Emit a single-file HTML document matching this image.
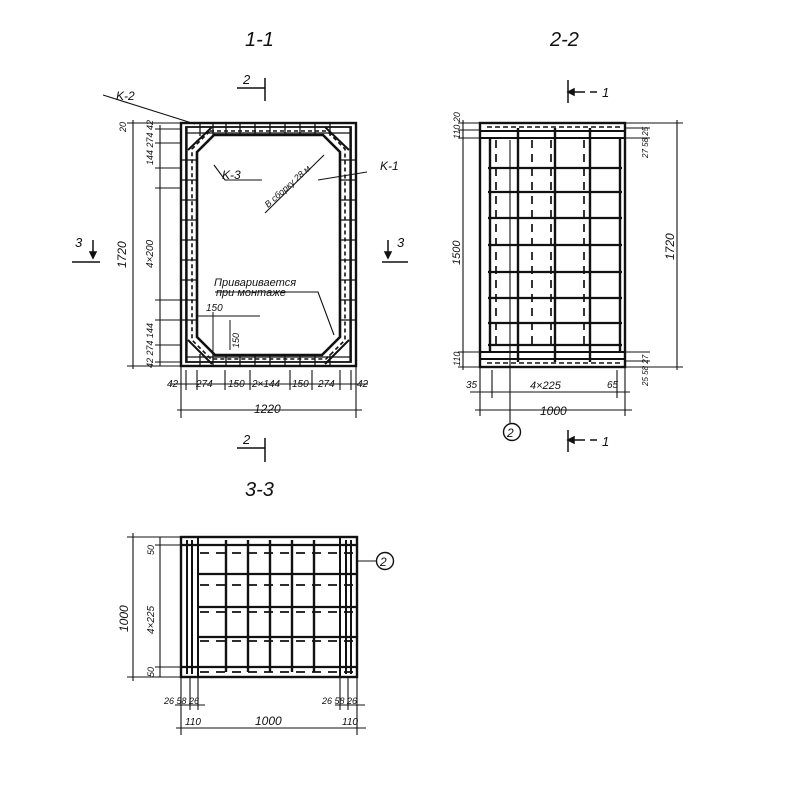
<!DOCTYPE html>
<html><head><meta charset="utf-8"><style>
html,body{margin:0;padding:0;background:#fff}
svg{display:block}
text{font-family:"Liberation Sans",sans-serif;font-style:italic;fill:#111;font-weight:500}
</style></head><body>
<svg width="800" height="800" viewBox="0 0 800 800" xmlns="http://www.w3.org/2000/svg">
<g stroke="#111" fill="none" stroke-width="1.5">
<!-- ===== 1-1 ===== -->
<rect x="181" y="123" width="175" height="243" stroke-width="2.4"/>
<rect x="186" y="127" width="165" height="235" stroke-width="1.8"/>
<path d="M214 135 L323 135 L340 152 L340 337 L322 355 L215 355 L197 337 L197 152 Z" stroke-width="2.6"/>
<path d="M210 131 L327 131 L345 149 L345 340 L326 359 L211 359 L192 340 L192 149 Z" stroke-dasharray="4 3" stroke-width="1.6"/>
<path d="M188 150 L212 127 M349 150 L325 127 M188 340 L212 364 M349 340 L325 364" stroke-width="2"/>
<path d="M186 133 H351 M186 357 H351 M187 127 V362 M350 127 V362" stroke-width="1.3"/>
<g stroke-width="1.3">
<path d="M200 123 V136 M213 123 V136 M226 123 V136 M240 123 V136 M255 123 V136 M270 123 V136 M285 123 V136 M300 123 V136 M315 123 V136 M330 123 V136"/>
<path d="M200 354 V366 M213 354 V366 M226 354 V366 M240 354 V366 M255 354 V366 M270 354 V366 M285 354 V366 M300 354 V366 M315 354 V366 M330 354 V366"/>
<path d="M181 160 H197 M181 180 H197 M181 200 H197 M181 220 H197 M181 240 H197 M181 260 H197 M181 280 H197 M181 300 H197 M181 320 H197"/>
<path d="M340 160 H356 M340 180 H356 M340 200 H356 M340 220 H356 M340 240 H356 M340 260 H356 M340 280 H356 M340 300 H356 M340 320 H356"/>
</g>
<path d="M133 120 V369 M127 123 H181 M127 366 H181 M160 125 V366 M155 129 H181 M155 143 H181 M155 168 H181 M155 188 H181 M155 300 H197 M155 320 H197 M155 345 H181 M155 362 H181" stroke-width="1.1"/>
<path d="M181 366 V418 M356 366 V418 M186 370 V390 M197 370 V390 M225 370 V390 M250 370 V390 M290 370 V390 M312 370 V390 M340 370 V390 M351 370 V390 M170 384 H368 M177 410 H362" stroke-width="1.1"/>
<path d="M197 316 H260 M213 312 V355 M230 320 V350" stroke-width="1"/>
<path d="M103 95 L195 124 M318 180 L367 172 M214 165 L225 180 L262 180 M265 213 L324 155 M215 292 L318 292 L334 335" stroke-width="1.1"/>
<path d="M237 88 H265 M265 78 V101 M237 448 H265 M265 438 V462 M72 262 H100 M93 240 V258 M382 262 H408 M388 240 V258" stroke-width="1.5"/>
<path d="M93 258 l-3 -6 h6 z M388 258 l-3 -6 h6 z" fill="#111"/>
<!-- ===== 2-2 ===== -->
<rect x="480" y="123" width="145" height="244" stroke-width="2.4"/>
<path d="M480 131 H625 M480 138 H625 M480 352 H625 M480 359 H625" stroke-width="2"/>
<path d="M487 127 H620 M487 363 H620" stroke-dasharray="5 3" stroke-width="1.6"/>
<path d="M490 138 V352 M518 128 V362 M555 128 V362 M590 128 V362 M620 138 V352" stroke-width="2.4"/>
<path d="M496 140 V350 M532 140 V350 M551 140 V350 M584 140 V350" stroke-dasharray="8 6" stroke-width="1.7"/>
<path d="M488 168 H622 M488 192 H622 M488 218 H622 M488 245 H622 M488 272 H622 M488 298 H622 M488 323 H622 M488 345 H622" stroke-width="2.2"/>
<path d="M463 120 V370 M458 123 H480 M458 130 H480 M458 138 H480 M458 352 H480 M458 367 H480" stroke-width="1.1"/>
<path d="M677 120 V370 M625 123 H683 M625 367 H683 M625 128 H650 M625 138 H650 M625 352 H650 M625 361 H650" stroke-width="1.1"/>
<path d="M480 367 V416 M625 367 V416 M492 370 V398 M617 370 V398 M470 392 H630 M475 410 H632 M510 140 V423" stroke-width="1.1"/>
<circle cx="512" cy="432" r="8.5" stroke-width="1.4"/>
<path d="M568 80 V103 M568 92 H585 M590 92 H597 M568 430 V452 M568 440 H585 M590 440 H597" stroke-width="1.5"/>
<path d="M568 92 l6 -3 v6 z M568 440 l6 -3 v6 z" fill="#111"/>
<!-- ===== 3-3 ===== -->
<rect x="181" y="537" width="176" height="140" stroke-width="2.4"/>
<path d="M198 537 V677 M340 537 V677 M187 540 V674 M192 540 V674 M346 540 V674 M351 540 V674" stroke-width="2"/>
<path d="M181 545 H357 M198 574 H357 M198 607 H357 M198 637 H357 M181 667 H357" stroke-width="2.2"/>
<path d="M200 553 H357 M200 585 H357 M200 612 H357 M200 641 H357 M200 672 H357" stroke-dasharray="9 7" stroke-width="1.7"/>
<path d="M226 540 V672 M248 540 V672 M270 540 V672 M292 540 V672 M314 540 V672" stroke-width="2.4"/>
<path d="M357 561 H376" stroke-width="1.1"/>
<circle cx="385" cy="561" r="8.5" stroke-width="1.4"/>
<path d="M133 533 V681 M127 537 H181 M127 677 H181 M160 537 V677 M155 545 H181 M155 667 H181" stroke-width="1.1"/>
<path d="M181 677 V735 M198 677 V710 M190 677 V710 M357 677 V735 M340 677 V710 M348 677 V710 M175 705 H205 M335 705 H365 M176 728 H366" stroke-width="1.1"/>
</g>
<g font-size="13">
<text x="245" y="46" font-size="20">1-1</text>
<text x="550" y="46" font-size="20">2-2</text>
<text x="245" y="496" font-size="20">3-3</text>
<text x="243" y="84">2</text>
<text x="243" y="444">2</text>
<text x="75" y="247">3</text>
<text x="397" y="247">3</text>
<text x="602" y="97">1</text>
<text x="602" y="446">1</text>
<text x="116" y="100" font-size="12">K-2</text>
<text x="222" y="179" font-size="12">K-3</text>
<text x="380" y="170" font-size="12">K-1</text>
<text x="214" y="286" font-size="11">Приваривается</text>
<text x="216" y="296" font-size="11">при монтаже</text>
<text x="0" y="0" font-size="9" transform="translate(268,208) rotate(-42)">В сборку 28 м</text>
<text x="0" y="0" font-size="12" transform="translate(126,268) rotate(-90)">1720</text>
<text x="0" y="0" font-size="10" transform="translate(153,268) rotate(-90)">4×200</text>
<text x="0" y="0" font-size="9" transform="translate(153,165) rotate(-90)">144 274 42</text>
<text x="0" y="0" font-size="9" transform="translate(153,368) rotate(-90)">42 274 144</text>
<text x="0" y="0" font-size="9" transform="translate(126,132) rotate(-90)">20</text>
<text x="206" y="311" font-size="10">150</text>
<text x="0" y="0" font-size="9" transform="translate(239,348) rotate(-90)">150</text>
<text x="167" y="387" font-size="10">42</text>
<text x="196" y="387" font-size="10">274</text>
<text x="228" y="387" font-size="10">150</text>
<text x="252" y="387" font-size="10">2×144</text>
<text x="292" y="387" font-size="10">150</text>
<text x="318" y="387" font-size="10">274</text>
<text x="357" y="387" font-size="10">42</text>
<text x="254" y="413" font-size="12">1220</text>
<text x="0" y="0" font-size="9" transform="translate(460,139) rotate(-90)">110 20</text>
<text x="0" y="0" font-size="11" transform="translate(460,265) rotate(-90)">1500</text>
<text x="0" y="0" font-size="9" transform="translate(460,366) rotate(-90)">110</text>
<text x="0" y="0" font-size="12" transform="translate(674,260) rotate(-90)">1720</text>
<text x="0" y="0" font-size="8" transform="translate(648,158) rotate(-90)">27 58 25</text>
<text x="0" y="0" font-size="8" transform="translate(648,386) rotate(-90)">25 58 27</text>
<text x="466" y="388" font-size="10">35</text>
<text x="530" y="389" font-size="11">4×225</text>
<text x="607" y="388" font-size="10">65</text>
<text x="540" y="415" font-size="12">1000</text>
<text x="507" y="437" font-size="12">2</text>
<text x="380" y="566" font-size="12">2</text>
<text x="0" y="0" font-size="12" transform="translate(128,632) rotate(-90)">1000</text>
<text x="0" y="0" font-size="10" transform="translate(154,634) rotate(-90)">4×225</text>
<text x="0" y="0" font-size="9" transform="translate(154,555) rotate(-90)">50</text>
<text x="0" y="0" font-size="9" transform="translate(154,677) rotate(-90)">50</text>
<text x="164" y="704" font-size="9">26 58 26</text>
<text x="322" y="704" font-size="9">26 58 26</text>
<text x="185" y="725" font-size="10">110</text>
<text x="255" y="725" font-size="12">1000</text>
<text x="342" y="725" font-size="10">110</text>
</g>
</svg>
</body></html>
